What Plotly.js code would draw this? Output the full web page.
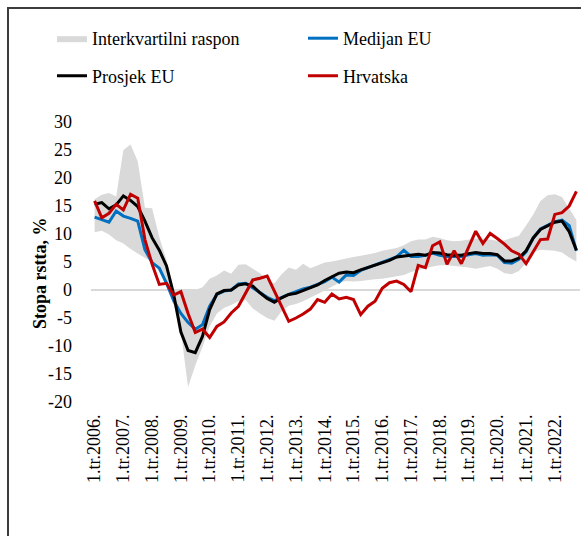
<!DOCTYPE html>
<html>
<head>
<meta charset="utf-8">
<script src="https://cdn.plot.ly/plotly-3.0.1.min.js"></script>
<style>
  html, body { margin: 0; padding: 0; background: #ffffff; overflow: hidden; }
  #chart { width: 581px; height: 536px; position: absolute; left: 0; top: 0; }
  #frame { position: absolute; left: 7px; top: 7px; width: 700px; height: 700px;
           border-left: 2px solid #3c3c3c; border-top: 2px solid #3c3c3c; pointer-events: none; }
</style>
</head>
<body>
<div id="chart"></div>
<div id="frame"></div>
<script>
// ---- categories ----
const years = [2006, 2007, 2008, 2009, 2010, 2011, 2012, 2013, 2014, 2015, 2016, 2017, 2018, 2019, 2020, 2021, 2022];
const quarterNums = [1, 2, 3, 4];
const quarters = [];
years.forEach(y => quarterNums.forEach(q => quarters.push(q + '.tr.' + y + '.')));
const xTickLabels = years.map(y => '1.tr.' + y + '.');

// ---- y ticks ----
const yTickVals = [-20, -15, -10, -5, 0, 5, 10, 15, 20, 25, 30];
const yTickText = ['-20', '-15', '-10', '-5', '0', '5', '10', '15', '20', '25', '30'];

// ---- series (growth rate, %) ----
const q25 = [10.3, 10.6, 9.9, 8.9, 8.3, 7.3, 6.5, 5.8, 5.0, 3.2,
             0.8, -2.7, -7.4, -17.3, -13.5, -10.2, -6.5, -4.2, -3.2, -2.7,
             -2.0, -1.8, -3.3, -4.2, -5.0, -5.5, -3.8, -2.8, -2.5, -2.0,
             -1.4, -0.8, -0.1, 0.6, 1.3, 1.6, 1.5, 1.6, 1.8, 1.9,
             2.0, 2.2, 2.4, 2.7, 3.2, 3.6, 3.9, 4.2, 4.4, 4.4,
             4.3, 4.2, 4.0, 3.8, 4.0, 4.3, 3.8, 3.0, 2.8, 3.4,
             4.8, 6.8, 7.2, 7.1, 7.0, 6.7, 5.8, 5.1];
const q75 = [16.2, 17.0, 17.3, 16.7, 25.0, 26.0, 23.0, 14.7, 14.6, 9.4,
             5.3, 0.2, 0.0, 0.0, 0.0, 0.5, 2.0, 2.6, 3.5, 2.9,
             4.5, 4.6, 3.8, 3.0, 1.8, 1.2, 2.8, 4.0, 3.6, 4.7,
             3.9, 4.4, 4.9, 5.1, 5.4, 5.6, 5.9, 6.1, 6.3, 6.6,
             7.0, 7.2, 7.5, 8.0, 8.7, 9.0, 9.0, 9.5, 9.3, 8.9,
             8.7, 8.8, 9.0, 9.2, 9.2, 9.0, 8.8, 8.9, 9.3, 9.7,
             11.5, 13.5, 15.9, 16.9, 17.1, 16.6, 14.5, 12.5];
const medianEU = [13.0, 12.6, 12.1, 14.1, 13.2, 12.8, 12.3, 7.2, 4.9, 3.9,
                  1.2, -1.9, -4.2, -5.8, -7.0, -6.2, -2.9, -0.8, -0.2, 0.0,
                  1.1, 1.2, 0.4, -0.5, -1.3, -1.9, -1.3, -0.8, -0.3, 0.2,
                  0.5, 1.0, 1.5, 2.3, 1.4, 2.7, 2.6, 3.5, 4.0, 4.5,
                  5.0, 5.4, 5.9, 7.1, 6.0, 6.0, 6.2, 6.6, 6.2, 6.0,
                  6.0, 6.0, 6.3, 6.5, 6.2, 6.3, 6.2, 4.9, 4.8, 5.5,
                  6.8, 9.3, 10.9, 11.6, 12.2, 12.5, 11.5, 7.0];
const meanEU = [15.3, 15.6, 14.5, 15.2, 16.8, 16.0, 14.9, 12.3, 9.3, 7.1,
                4.3, -0.8, -7.5, -10.8, -11.2, -8.3, -3.5, -0.7, -0.1, 0.0,
                0.9, 1.1, 0.7, -0.5, -1.5, -2.2, -1.4, -0.8, -0.6, -0.1,
                0.3, 0.9, 1.7, 2.4, 3.0, 3.2, 3.1, 3.6, 4.0, 4.4,
                4.9, 5.3, 5.9, 6.1, 6.2, 6.4, 6.2, 6.7, 6.6, 6.3,
                6.2, 6.2, 6.5, 6.7, 6.5, 6.5, 6.3, 5.2, 5.2, 5.7,
                7.0, 9.3, 10.8, 11.5, 12.1, 12.3, 10.4, 7.1];
const croatia = [15.9, 12.9, 13.7, 15.3, 14.3, 17.1, 16.4, 9.0, 4.6, 1.0,
                 1.2, -0.9, -0.3, -4.2, -7.6, -7.0, -8.5, -6.5, -5.7, -4.1,
                 -2.9, -0.6, 1.8, 2.1, 2.5, -0.2, -2.9, -5.6, -5.0, -4.3,
                 -3.4, -1.7, -2.2, -0.7, -1.6, -1.3, -1.7, -4.4, -2.9, -2.0,
                 0.3, 1.3, 1.6, 1.0, -0.3, 4.4, 4.0, 7.9, 8.6, 4.6,
                 7.0, 4.7, 7.6, 10.5, 8.3, 10.1, 9.2, 8.2, 7.0, 6.4,
                 4.7, 6.8, 9.0, 9.1, 13.5, 13.8, 15.0, 17.6];

const FONT = '"Liberation Serif", "Times New Roman", serif';

const traces = [
  { x: quarters, y: q25, type: 'scatter', mode: 'lines',
    line: { width: 0, color: 'rgba(0,0,0,0)' }, showlegend: false, hoverinfo: 'skip' },
  { x: quarters, y: q75, type: 'scatter', mode: 'lines', fill: 'tonexty',
    fillcolor: '#d9d9d9', line: { width: 0, color: '#d9d9d9' },
    name: 'Interkvartilni raspon', legend: 'legend' },
  { x: quarters, y: medianEU, type: 'scatter', mode: 'lines',
    line: { width: 3, color: '#0070c0' }, name: 'Medijan EU', legend: 'legend' },
  { x: quarters, y: meanEU, type: 'scatter', mode: 'lines',
    line: { width: 3, color: '#000000' }, name: 'Prosjek EU', legend: 'legend2' },
  { x: quarters, y: croatia, type: 'scatter', mode: 'lines',
    line: { width: 3, color: '#c00000' }, name: 'Hrvatska', legend: 'legend2' }
];

// plot area in pixels: left 91, width 488.7, top 122, height 280
const legendBase = {
  orientation: 'h', xref: 'paper', yref: 'paper',
  xanchor: 'left', yanchor: 'middle',
  entrywidth: 206, entrywidthmode: 'pixels', itemwidth: 30,
  font: { family: FONT, size: 18, color: '#000000' },
  bgcolor: 'rgba(0,0,0,0)', borderwidth: 0, traceorder: 'normal'
};

const layout = {
  width: 581, height: 536,
  margin: { l: 91, r: 1, t: 122, b: 134 },
  paper_bgcolor: '#ffffff', plot_bgcolor: '#ffffff',
  font: { family: FONT, size: 18, color: '#000000' },
  xaxis: {
    type: 'category', range: [-0.5, 67.5],
    tickvals: xTickLabels, ticktext: xTickLabels, tickangle: -90,
    showgrid: false, showline: false, zeroline: false, ticks: '',
    ticklabelstandoff: 8,
    tickfont: { family: FONT, size: 18, color: '#000000' }
  },
  yaxis: {
    range: [-20, 30], tickvals: yTickVals, ticktext: yTickText,
    showgrid: false, showline: false, ticks: '',
    zeroline: true, zerolinecolor: '#d9d9d9', zerolinewidth: 1.5,
    ticklabelstandoff: 18,
    tickfont: { family: FONT, size: 18, color: '#000000' }
  },
  legend: Object.assign({}, legendBase, { x: (52 - 91) / 488.7, y: (402 - 38.5) / 280 }),
  legend2: Object.assign({}, legendBase, { x: (52 - 91) / 488.7, y: (402 - 76) / 280 }),
  annotations: [{
    text: '<b>Stopa rstta, %</b>', textangle: -90, showarrow: false,
    xref: 'paper', yref: 'paper', x: (40 - 91) / 488.7, y: (402 - 273) / 280,
    xanchor: 'center', yanchor: 'middle',
    font: { family: FONT, size: 18, color: '#000000' }
  }],
  showlegend: true
};

Plotly.newPlot('chart', traces, layout, { staticPlot: true, displayModeBar: false });
</script>
</body>
</html>
